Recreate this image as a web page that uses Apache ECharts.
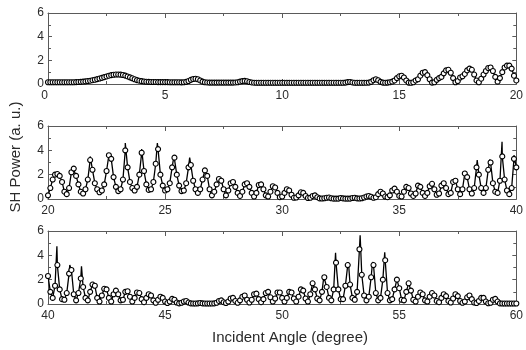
<!DOCTYPE html>
<html><head><meta charset="utf-8">
<script src="https://cdn.jsdelivr.net/npm/echarts@6/dist/echarts.min.js"></script>
<style>html,body{margin:0;padding:0;background:#fff}#c{width:526px;height:350px}</style>
</head><body><div id="c"></div>
<script>
// x ranges of the three panels (degree)
const panelRanges = [[0, 20], [20, 40], [40, 60]];
const sampleStep = 0.1; // experimental sampling step (degree)

// Experimental SH power (circles), one value every 0.1 degree
const exp1 = [
  0.15,0.15,0.15,0.15,0.15,0.15,0.15,0.15,0.15,0.15,
  0.15,0.15,0.16,0.17,0.18,0.2,0.22,0.25,0.28,0.32,
  0.36,0.41,0.46,0.52,0.58,0.64,0.7,0.75,0.78,0.8,
  0.8,0.79,0.76,0.71,0.64,0.56,0.48,0.4,0.33,0.28,
  0.24,0.21,0.19,0.18,0.17,0.17,0.17,0.16,0.16,0.16,
  0.16,0.16,0.15,0.15,0.15,0.15,0.15,0.14,0.15,0.18,
  0.25,0.35,0.42,0.45,0.4,0.3,0.2,0.15,0.13,0.12,
  0.12,0.12,0.12,0.12,0.12,0.12,0.12,0.12,0.12,0.12,
  0.13,0.15,0.2,0.24,0.26,0.23,0.17,0.13,0.11,0.1,
  0.1,0.1,0.1,0.1,0.1,0.1,0.1,0.1,0.1,0.1,
  0.1,0.1,0.1,0.1,0.1,0.1,0.1,0.1,0.1,0.1,
  0.1,0.1,0.1,0.1,0.1,0.1,0.1,0.1,0.1,0.1,
  0.1,0.1,0.1,0.1,0.1,0.1,0.1,0.12,0.16,0.17,
  0.13,0.1,0.1,0.1,0.1,0.1,0.11,0.12,0.18,0.32,
  0.4,0.32,0.18,0.12,0.1,0.12,0.15,0.2,0.3,0.5,
  0.65,0.7,0.55,0.3,0.12,0.1,0.15,0.3,0.4,0.7,
  0.95,1.0,0.75,0.4,0.12,0.15,0.35,0.5,0.6,0.9,
  1.15,1.2,0.95,0.5,0.15,0.25,0.55,0.65,0.85,1.15,
  1.3,1.2,0.8,0.3,0.15,0.45,0.8,1.1,1.35,1.4,
  1.1,0.6,0.2,0.5,1.0,1.4,1.55,1.55,1.3,0.7,
  0.3
];
const exp2 = [
  0.3,0.9,1.6,2.0,2.05,1.9,1.4,0.6,0.4,0.9,
  2.2,2.5,1.9,1.2,0.6,0.45,0.8,1.6,3.2,2.4,
  1.3,0.8,0.55,0.7,1.2,2.3,3.6,3.3,1.8,1.0,
  0.65,0.8,1.6,4.0,2.6,1.4,0.9,0.7,1.0,2.0,
  3.8,2.3,1.2,0.75,0.8,1.4,2.9,4.1,2.0,1.1,
  0.7,0.8,1.3,2.6,3.4,2.0,1.1,0.65,0.7,1.3,
  2.6,2.8,1.5,0.8,0.5,0.8,1.6,2.35,1.9,0.8,
  0.3,0.6,1.2,1.65,1.5,0.8,0.3,0.7,1.3,1.4,
  1.0,0.5,0.25,0.6,1.2,1.3,1.0,0.5,0.2,0.5,
  1.15,1.2,0.8,0.3,0.2,0.6,1.05,0.95,0.5,0.15,
  0.2,0.5,0.8,0.7,0.35,0.1,0.12,0.3,0.55,0.5,
  0.25,0.08,0.1,0.25,0.3,0.15,0.05,0.04,0.06,0.1,
  0.12,0.06,0.03,0.03,0.03,0.08,0.05,0.03,0.03,0.03,
  0.08,0.1,0.05,0.04,0.06,0.12,0.2,0.25,0.18,0.1,
  0.15,0.4,0.6,0.45,0.2,0.15,0.3,0.7,0.85,0.6,
  0.25,0.2,0.6,1.0,0.9,0.45,0.25,0.45,1.1,1.0,
  0.5,0.25,0.5,1.05,1.25,0.8,0.35,0.45,1.1,1.3,
  0.9,0.4,0.5,1.4,1.5,0.8,0.4,0.8,2.1,1.8,
  0.8,0.45,0.9,2.6,2.0,0.9,0.5,0.9,2.4,3.0,
  1.3,0.6,0.5,1.5,3.5,1.6,0.7,0.4,0.9,3.3,
  2.6
];
const exp3 = [
  2.3,1.0,0.5,1.5,3.2,1.2,0.4,0.35,0.9,2.5,
  2.8,0.8,0.3,0.9,2.1,1.4,0.5,0.3,1.0,1.6,
  1.5,0.5,0.2,0.7,1.25,1.2,0.5,0.2,0.8,1.1,
  0.8,0.3,0.35,1.0,1.05,0.6,0.2,0.5,0.95,0.9,
  0.4,0.15,0.5,0.8,0.7,0.3,0.1,0.35,0.6,0.5,
  0.2,0.08,0.2,0.42,0.35,0.12,0.05,0.1,0.2,0.25,
  0.12,0.05,0.04,0.04,0.05,0.08,0.05,0.04,0.04,0.04,
  0.04,0.05,0.1,0.25,0.3,0.15,0.08,0.2,0.45,0.5,
  0.25,0.1,0.3,0.6,0.7,0.35,0.12,0.35,0.8,0.85,
  0.4,0.15,0.4,0.9,1.0,0.55,0.2,0.45,0.95,0.95,
  0.5,0.2,0.5,1.0,0.95,0.45,0.2,0.6,1.2,1.1,
  0.45,0.2,0.8,1.7,1.2,0.45,0.3,1.0,2.2,1.4,
  0.5,0.3,1.2,3.4,1.2,0.4,0.4,1.5,3.2,1.6,
  0.5,0.35,1.0,4.5,2.4,0.7,0.3,0.6,2.2,3.2,
  0.9,0.3,0.5,2.0,3.6,0.9,0.3,0.4,1.2,2.0,
  1.3,0.35,0.3,1.0,1.7,1.1,0.35,0.2,0.6,0.95,
  0.8,0.3,0.2,0.6,0.9,0.7,0.25,0.15,0.5,0.8,
  0.65,0.25,0.12,0.45,0.8,0.65,0.25,0.1,0.2,0.55,
  0.7,0.4,0.12,0.08,0.25,0.5,0.5,0.2,0.06,0.1,
  0.35,0.42,0.2,0.05,0.04,0.04,0.04,0.04,0.04,0.04,
  0.04
];

// Theory curve: sharp resonance tips (angle, power) between the samples
const tips1 = [];
const tips2 = [[20.45,2.05],[21.07,2.55],[21.8,3.5],[22.63,3.75],[23.3,4.6],[24.0,4.1],
  [24.67,4.6],[25.38,3.55],[26.05,3.4],[26.7,2.45],[27.33,1.7],[27.85,1.45],[28.46,1.35],
  [29.03,1.3],[29.62,1.1],[30.22,0.85],[30.85,0.6],[31.38,0.3],[37.81,2.3],[38.33,3.2],
  [38.87,3.25],[39.39,4.7],[39.9,3.6]];
const tips3 = [[40.38,4.75],[40.93,3.2],[41.43,3.1],[41.92,1.8],[51.3,1.8],[51.78,2.25],
  [52.28,4.2],[52.83,3.45],[53.33,5.65],[53.86,3.45],[54.38,4.25],[54.92,2.15],[55.41,1.8]];

const yTicks = [0, 2, 4, 6];
const xLabelStep = 5;
const xTitle = 'Incident Angle (degree)';
const yTitle = 'SH Power (a. u.)';

const expData = [exp1, exp2, exp3];
const tipData = [tips1, tips2, tips3];

function toPts(arr, start) { return arr.map((v, i) => [+(start + i * sampleStep).toFixed(2), v]); }
function merge(a, b) { return a.concat(b).sort((p, q) => p[0] - q[0]); }

const gridPos = [{top: 13, height: 71}, {top: 126, height: 73}, {top: 231, height: 73}];
const axisColor = '#5a5a5a';
const labelStyle = {color: '#2a2a2a', fontSize: 12, fontFamily: 'Liberation Sans, Arial, sans-serif'};

const grid = [], xAxis = [], yAxis = [], series = [];
panelRanges.forEach((r, i) => {
  grid.push({left: 48, right: 6, top: gridPos[i].top, height: gridPos[i].height});
  const xBase = {
    gridIndex: i, type: 'value', min: r[0], max: r[1], interval: xLabelStep,
    axisLine: {show: true, onZero: false, lineStyle: {color: axisColor, width: 1}},
    axisTick: {show: true, inside: true, length: 5, lineStyle: {color: axisColor}},
    minorTick: {show: true, splitNumber: 2, length: 3, lineStyle: {color: axisColor}},
    splitLine: {show: false}
  };
  const lbl = Object.assign({margin: 6}, labelStyle);
  if (i === 0) lbl.alignMinLabel = 'right';
  xAxis.push(Object.assign({}, xBase, {position: 'bottom', axisLabel: lbl}));
  xAxis.push(Object.assign({}, xBase, {position: 'top', axisLabel: {show: false}}));
  const yBase = {
    gridIndex: i, type: 'value', min: yTicks[0], max: yTicks[yTicks.length - 1], interval: yTicks[1] - yTicks[0],
    axisLine: {show: true, onZero: false, lineStyle: {color: axisColor, width: 1}},
    axisTick: {show: true, inside: true, length: 4, lineStyle: {color: axisColor}},
    minorTick: {show: true, splitNumber: 2, length: 3, lineStyle: {color: axisColor}},
    splitLine: {show: false}
  };
  yAxis.push(Object.assign({}, yBase, {position: 'left', axisLabel: Object.assign({margin: 4}, labelStyle)}));
  yAxis.push(Object.assign({}, yBase, {position: 'right', axisLabel: {show: false}}));

  const pts = toPts(expData[i], r[0]);
  series.push({
    type: 'line', xAxisIndex: 2 * i, yAxisIndex: 2 * i, data: merge(pts, tipData[i]),
    showSymbol: false, symbol: 'none', lineStyle: {color: '#000', width: 1.3}, animation: false, z: 2
  });
  series.push({
    type: 'scatter', xAxisIndex: 2 * i, yAxisIndex: 2 * i, data: pts, symbol: 'circle', symbolSize: 5,
    itemStyle: {color: '#fff', borderColor: '#000', borderWidth: 1.1, opacity: 1}, animation: false, z: 3
  });
});

const chart = echarts.init(document.getElementById('c'));
chart.setOption({
  animation: false,
  grid, xAxis, yAxis, series,
  graphic: [
    {type: 'text', x: 290, y: 338, style: {text: xTitle, fill: '#2a2a2a', fontSize: 15,
      fontFamily: 'Liberation Sans, Arial, sans-serif', textAlign: 'center', textVerticalAlign: 'middle'}},
    {type: 'text', x: 16, y: 157, rotation: Math.PI / 2, style: {text: yTitle, fill: '#2a2a2a', fontSize: 15,
      fontFamily: 'Liberation Sans, Arial, sans-serif', textAlign: 'center', textVerticalAlign: 'middle'}}
  ]
});
</script></body></html>
